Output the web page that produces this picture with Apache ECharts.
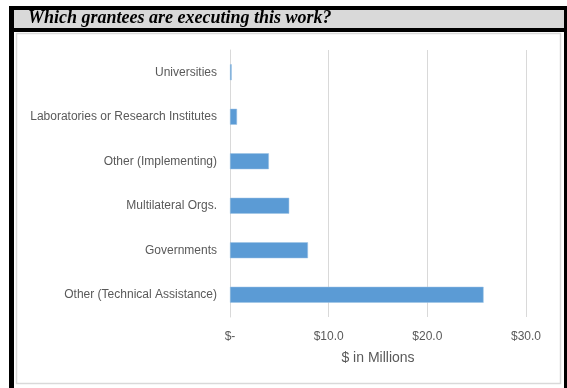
<!DOCTYPE html>
<html>
<head>
<meta charset="utf-8">
<script src="https://cdn.jsdelivr.net/npm/echarts@6/dist/echarts.min.js"></script>
<style>
html,body{margin:0;padding:0;background:#fff;}
#c{width:567px;height:388px;}
</style>
</head>
<body>
<div id="c"></div>
<script>
var categories = ["Universities", "Laboratories or Research Institutes", "Other (Implementing)", "Multilateral Orgs.", "Governments", "Other (Technical Assistance)"];
var values = [0.17, 0.71, 3.94, 6.0, 7.9, 25.7];
var titleText = "Which grantees are executing this work?";
var axisTitle = "$ in Millions";

var chart = echarts.init(document.getElementById('c'), null, {renderer: 'canvas'});
chart.setOption({
  animation: false,
  backgroundColor: '#ffffff',
  graphic: [
    {type: 'rect', shape: {x: 9, y: 6, width: 558, height: 382}, style: {fill: '#000000'}, z: -10},
    {type: 'rect', shape: {x: 14, y: 10, width: 550, height: 18}, style: {fill: '#d9d9d9'}, z: -9},
    {type: 'rect', shape: {x: 14, y: 32, width: 550, height: 356}, style: {fill: '#ffffff'}, z: -9},
    {type: 'rect', shape: {x: 16.5, y: 33.5, width: 544, height: 350}, style: {fill: '#ffffff', stroke: '#d9d9d9', lineWidth: 1.5}, z: -8},
    {type: 'text', left: 28, top: 9, style: {text: titleText, font: 'italic bold 18px "Liberation Serif", "Times New Roman", serif', fill: '#000000'}, z: 10}
  ],
  grid: {left: 230, right: 41, top: 50, bottom: 71, containLabel: false},
  xAxis: {
    type: 'value', min: 0, max: 30, interval: 10,
    name: axisTitle, nameLocation: 'middle', nameGap: 34,
    nameTextStyle: {color: '#595959', fontSize: 14, fontFamily: '"Liberation Sans", Arial, sans-serif'},
    axisLine: {show: false}, axisTick: {show: false},
    axisLabel: {
      color: '#595959', fontSize: 12, margin: 14, fontFamily: '"Liberation Sans", Arial, sans-serif',
      formatter: function (v) { return v === 0 ? '$-' : '$' + v.toFixed(1); }
    },
    splitLine: {show: true, lineStyle: {color: '#d9d9d9', width: 1}}
  },
  yAxis: {
    type: 'category', data: categories, inverse: true,
    axisLine: {show: true, lineStyle: {color: '#d9d9d9'}},
    axisTick: {show: false},
    axisLabel: {color: '#595959', fontSize: 12, margin: 13, fontFamily: '"Liberation Sans", Arial, sans-serif'}
  },
  series: [{
    type: 'bar', data: values, barWidth: 16,
    itemStyle: {color: '#5b9bd5', borderColor: '#9cc2e5', borderWidth: 0.5}
  }]
});
</script>
</body>
</html>
